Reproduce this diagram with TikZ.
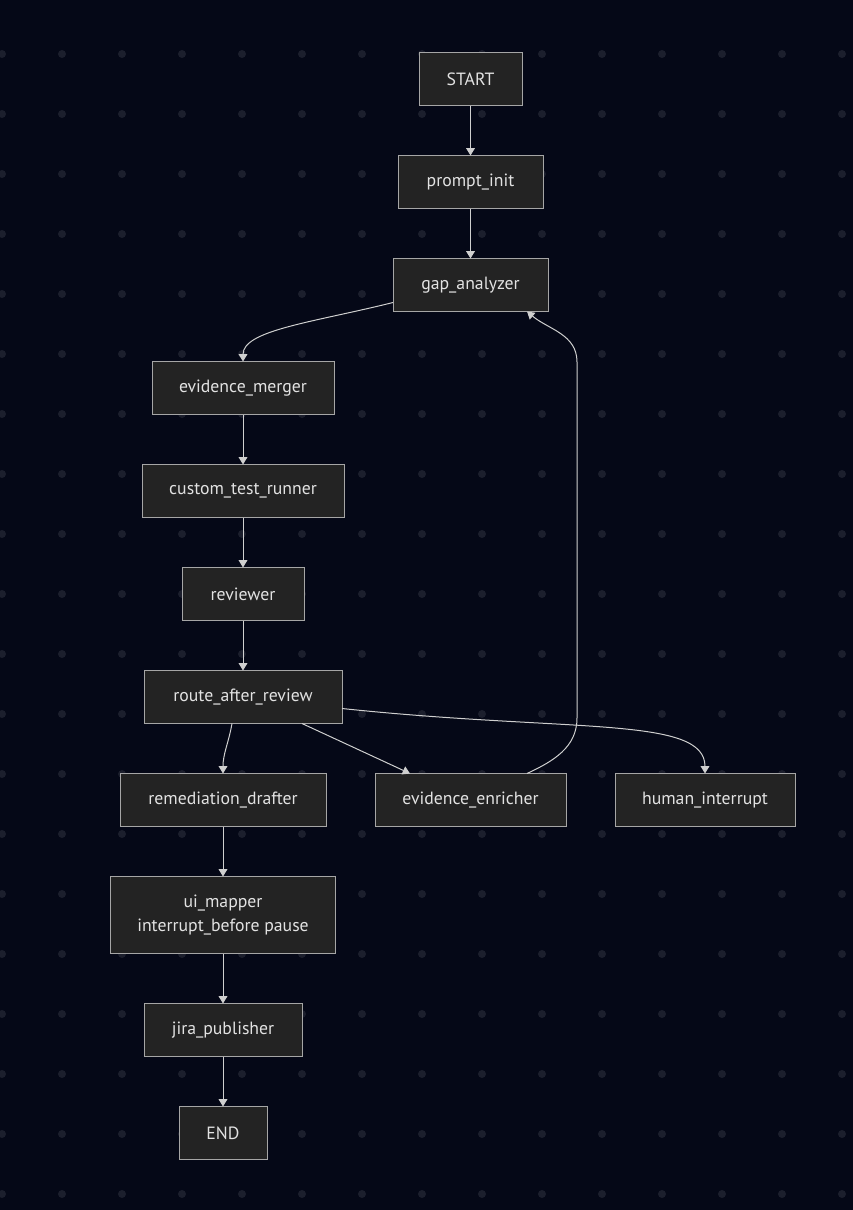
\documentclass[tikz,border=0pt]{standalone}
\usepackage{fontspec}
\setmainfont{PT Sans}
\usepackage{tikz}
\usetikzlibrary{arrows.meta,positioning}
\definecolor{canvas}{HTML}{050817}
\definecolor{griddot}{HTML}{1C1F2D}
\definecolor{boxfill}{HTML}{232323}
\definecolor{boxline}{HTML}{A6A6A6}
\definecolor{ink}{HTML}{E2E2E2}
\definecolor{wire}{HTML}{CFCFCF}
\tikzset{
  >={Triangle[width=6.5pt,length=5.5pt]},
  every node/.style={font=\fontsize{13.3pt}{18pt}\selectfont,text=ink},
  stepbox/.style={draw=boxline,line width=0.75pt,fill=boxfill,align=center,inner sep=0pt,outer sep=0pt,minimum height=39.75pt},
  arrow/.style={->,line width=0.75pt,draw=wire},
}

\begin{document}
\begin{tikzpicture}[x=0.75pt,y=-0.75pt,node distance=37.5pt and 36.75pt]

% canvas and dot grid
\fill[canvas] (0,0) rectangle (853,1210);
\useasboundingbox (0,0) rectangle (853,1210);
\foreach \i in {0,...,14}
  \foreach \j in {0,...,19}
    \fill[griddot] (2+60*\i,54+60*\j) circle (3pt);

% main chain
\node[stepbox,minimum width=77.25pt] (start) at (470.5,79) {START};
\node[stepbox,minimum width=108.75pt,below=of start] (promptinit) {prompt\_init};
\node[stepbox,minimum width=116.25pt,below=of promptinit] (gap) {gap\_analyzer};
\node[stepbox,minimum width=136.5pt,below=of gap,xshift=-170.625pt] (merger) {evidence\_merger};
\node[stepbox,minimum width=151.5pt,below=of merger] (tester) {custom\_test\_runner};
\node[stepbox,minimum width=91.5pt,below=of tester] (reviewer) {reviewer};
\node[stepbox,minimum width=148.5pt,below=of reviewer] (route) {route\_after\_review};

% branches
\node[stepbox,minimum width=154.5pt,below=of route,xshift=-15pt] (drafter) {remediation\_drafter};
\node[stepbox,minimum width=143.25pt,right=of drafter] (enricher) {evidence\_enricher};
\node[stepbox,minimum width=135pt,right=of enricher] (human) {human\_interrupt};

% tail
\node[stepbox,minimum width=168.75pt,minimum height=57.75pt,below=of drafter] (uimapper) {ui\_mapper\\interrupt\_before pause};
\node[stepbox,minimum width=118.5pt,below=of uimapper] (jira) {jira\_publisher};
\node[stepbox,minimum width=66pt,below=of jira] (finish) {END};

\coordinate (loopbot) at (577,718);
\coordinate (looptop) at (577,362);

\draw[arrow] (start) -- (promptinit);
\draw[arrow] (promptinit) -- (gap);
\draw[arrow] ([yshift=6.75pt]gap.south west) to[out=194,in=90,out looseness=1.3,in looseness=0.5] (merger.north);
\draw[arrow] (merger) -- (tester);
\draw[arrow] (tester) -- (reviewer);
\draw[arrow] (reviewer) -- (route);
\draw[arrow] ([xshift=-8.25pt]route.south) to[out=-100,in=90] (drafter.north);
\draw[arrow] ([xshift=44.25pt]route.south) -- ([xshift=-45.375pt]enricher.north);
\draw[arrow] ([yshift=-8.625pt]route.east) to[out=-6,in=90,out looseness=1.6,in looseness=0.4] (human.north);
\draw[arrow] ([xshift=42.375pt]enricher.north) to[out=25,in=-90] (loopbot) -- (looptop) to[out=90,in=-40] ([xshift=42.375pt]gap.south);
\draw[arrow] (drafter) -- (uimapper);
\draw[arrow] (uimapper) -- (jira);
\draw[arrow] (jira) -- (finish);

\end{tikzpicture}
\end{document}
